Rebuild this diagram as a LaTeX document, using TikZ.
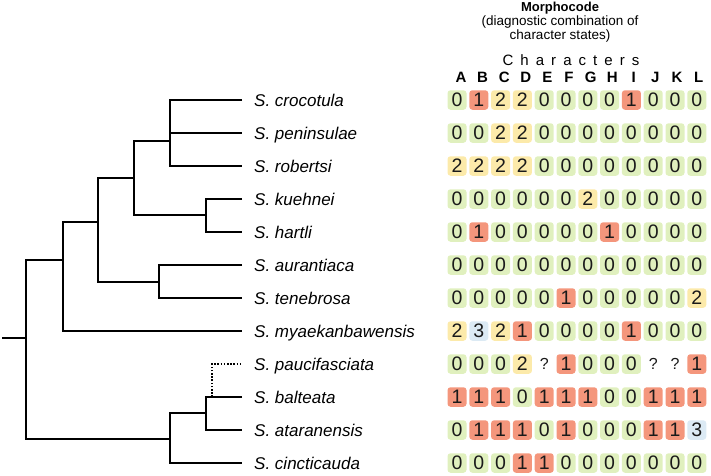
\documentclass[tikz,border=0pt]{standalone}
\usepackage{fontspec}
\setmainfont{Liberation Sans}
\definecolor{zerofill}{HTML}{E0F0BE}
\definecolor{onefill}{HTML}{F4967C}
\definecolor{twofill}{HTML}{FCEAAA}
\definecolor{threefill}{HTML}{DCEAF4}
\definecolor{ink}{HTML}{1A1A1A}

\begin{document}
\begin{tikzpicture}[x=1pt, y=-1pt,
    branch/.style={line width=2.6pt, line join=miter},
    guess/.style={branch, dash pattern=on 1.6pt off 1.6pt},
    taxon/.style={anchor=base west, inner sep=0pt, font=\fontsize{17}{20}\selectfont\itshape},
    cellbox/.style={rounded corners=3pt, minimum width=19pt, minimum height=19.5pt, inner sep=0pt, text=ink, font=\fontsize{19.5}{20}\selectfont},
    cell0/.style={cellbox, fill=zerofill, node contents=0},
    cell1/.style={cellbox, fill=onefill, node contents=1},
    cell2/.style={cellbox, fill=twofill, node contents=2},
    cell3/.style={cellbox, fill=threefill, node contents=3},
    cellq/.style={cellbox, font=\fontsize{16}{18}\selectfont, node contents=?},
    charhead/.style={inner sep=0pt, font=\fontsize{15}{18}\selectfont\bfseries}]
  %tikz  Morphocode, cladogramma
  \useasboundingbox (0,0) rectangle (711,475);

  % taxa
  \foreach \tax/\epithet [count=\i] in {croc/crocotula, peni/peninsulae, robe/robertsi,
      kueh/kuehnei, hart/hartli, aura/aurantiaca, tene/tenebrosa, myae/myaekanbawensis,
      pauc/paucifasciata, balt/balteata, atar/ataranensis, cinc/cincticauda} {
    \coordinate (t\tax) at (242,{100+33*(\i-1)});
    \node[taxon] (\tax) at (254,{106+33*(\i-1)}) {S. \epithet};
  }

  % tree
  \coordinate (n1) at (170,141);
  \coordinate (n2) at (206,215);
  \coordinate (n3) at (134,178);
  \coordinate (n4) at (159,282);
  \coordinate (n5) at (98,222);
  \coordinate (n6) at (63,260);
  \coordinate (n7) at (206,413);
  \coordinate (n8) at (170,439);
  \coordinate (root) at (26,338);
  \coordinate (stem) at (2,338);
  \coordinate (graft) at (212,397);
  \draw[branch] (tcroc) -| (n1) |- (trobe);
  \draw[branch] (n1 |- tpeni) -- (tpeni);
  \draw[branch] (tkueh) -| (n2) |- (thart);
  \draw[branch] (n1) -| (n3) |- (n2);
  \draw[branch] (taura) -| (n4) |- (ttene);
  \draw[branch] (n3) -| (n5) |- (n4);
  \draw[branch] (n5) -| (n6) |- (tmyae);
  \draw[branch] (tbalt) -| (n7) |- (tatar);
  \draw[branch] (n7) -| (n8) |- (tcinc);
  \draw[branch] (n6) -| (root) |- (n8);
  \draw[branch] (stem) -- (root);
  \draw[guess] (graft) |- (tpauc);

  % header
  \node[font=\fontsize{13}{16}\selectfont\bfseries, anchor=base] (title) at (560,11) {Morphocode};
  \node[font=\fontsize{13.5}{16}\selectfont, anchor=base] (note1) at (560,25) {(diagnostic combination of};
  \node[font=\fontsize{13.5}{16}\selectfont, anchor=base] (note2) at (560,39) {character states)};
  \node[font=\fontsize{15}{18}\selectfont\addfontfeature{LetterSpace=47}, anchor=base] (chars) at (571,65) {Characters};
  \foreach \c [count=\j] in {A,B,C,D,E,F,G,H,I,J,K,L}
    \node[charhead] (h\c) at ({461+21.6*(\j-1)},77.5) {\c};

  % matrix
  \foreach \states [count=\i] in {
      {0,1,2,2,0,0,0,0,1,0,0,0},
      {0,0,2,2,0,0,0,0,0,0,0,0},
      {2,2,2,2,0,0,0,0,0,0,0,0},
      {0,0,0,0,0,0,2,0,0,0,0,0},
      {0,1,0,0,0,0,0,1,0,0,0,0},
      {0,0,0,0,0,0,0,0,0,0,0,0},
      {0,0,0,0,0,1,0,0,0,0,0,2},
      {2,3,2,1,0,0,0,0,1,0,0,0},
      {0,0,0,2,q,1,0,0,0,q,q,1},
      {1,1,1,0,1,1,1,0,0,1,1,1},
      {0,1,1,1,0,1,0,0,0,1,1,3},
      {0,0,0,1,1,0,0,0,0,0,0,0}}{
    \foreach \s [count=\j] in \states
      \node[cell\s, name=c\i-\j, at={({457+21.8*(\j-1)},{100+33*(\i-1)})}];
  }
\end{tikzpicture}
\end{document}
